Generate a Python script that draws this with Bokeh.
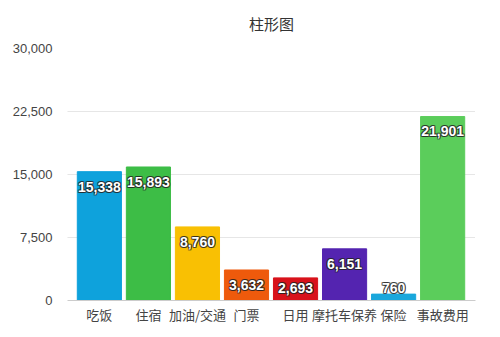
import numpy as np
from bokeh.plotting import figure
from bokeh.models import ColumnDataSource, FixedTicker, NumeralTickFormatter, Range1d
from bokeh.core.properties import value
from bokeh.embed import file_html
from bokeh.resources import INLINE

categories = ["吃饭", "住宿", "加油/交通", "门票", "日用", "摩托车保养", "保险", "事故费用"]
amounts = [15338, 15893, 8760, 3632, 2693, 6151, 760, 21901]
colors = ["#0ea2dc", "#3dbd46", "#f9c003", "#ee5a0c", "#d8121b", "#5424b0", "#1aa7dc", "#5bcd5b"]
y_ticks = [0, 7500, 15000, 22500, 30000]
title_text = "柱形图"

x = np.arange(len(categories))
vals = np.array(amounts, dtype=float)
px_per_unit = 254 / 30000.0
label_y = np.maximum(vals - 15 / px_per_unit, 13 / px_per_unit)
labels = [f"{v:,}" for v in amounts]

src = ColumnDataSource(dict(x=x, top=vals, color=colors, ly=label_y, label=labels))

p = figure(width=500, height=337, output_backend="svg", toolbar_location=None,
           x_range=Range1d(-0.65, 7.67), y_range=Range1d(0, 30000),
           min_border_left=67, min_border_right=25, min_border_top=46, min_border_bottom=37,
           title=title_text)
p.title.align = "center"
p.title.vertical_align = "top"
p.title.text_font = "Noto Sans CJK SC"
p.title.text_font_size = "15px"
p.title.text_font_style = "normal"
p.title.text_color = "#333333"
p.title.standoff = 9
if "padding" in p.title.properties():
    p.title.padding = 8
p.outline_line_color = None
p.background_fill_color = "white"

p.vbar(x="x", top="top", width=0.9, bottom=0, color="color", source=src)

font = value("Liberation Sans")
for dx, dy in [(-1, 0), (1, 0), (0, -1), (0, 1), (1, 1), (-1, -1), (1, -1), (-1, 1)]:
    p.text(x="x", y="ly", text="label", source=src, text_align="center", text_baseline="middle",
           text_font=font, text_font_size="14px", text_font_style="bold",
           text_color="#222222", text_alpha=0.55, x_offset=dx, y_offset=dy)
p.text(x="x", y="ly", text="label", source=src, text_align="center", text_baseline="middle",
       text_font=font, text_font_size="14px", text_font_style="bold", text_color="white")

p.yaxis.ticker = FixedTicker(ticks=y_ticks)
p.yaxis.formatter = NumeralTickFormatter(format="0,0")
p.yaxis.axis_line_color = None
p.yaxis.major_tick_line_color = None
p.yaxis.major_tick_out = 0
p.yaxis.minor_tick_line_color = None
p.yaxis.major_label_text_font = "Liberation Sans"
p.yaxis.major_label_text_font_size = "13px"
p.yaxis.major_label_text_color = "#444444"
p.yaxis.major_label_standoff = 15

p.xaxis.ticker = FixedTicker(ticks=list(x))
p.xaxis.major_label_overrides = {int(i): c for i, c in zip(x, categories)}
p.xaxis.axis_line_color = "#cccccc"
p.xaxis.major_tick_line_color = None
p.xaxis.major_tick_out = 0
p.xaxis.minor_tick_line_color = None
p.xaxis.major_label_text_font = "Noto Sans CJK SC"
p.xaxis.major_label_text_font_size = "13px"
p.xaxis.major_label_text_color = "#444444"
p.xaxis.major_label_standoff = 4

p.xgrid.grid_line_color = None
p.ygrid.grid_line_color = "#cccccc"
p.ygrid.grid_line_dash = "1 1"

open("out.html", "w").write(file_html(p, INLINE))
